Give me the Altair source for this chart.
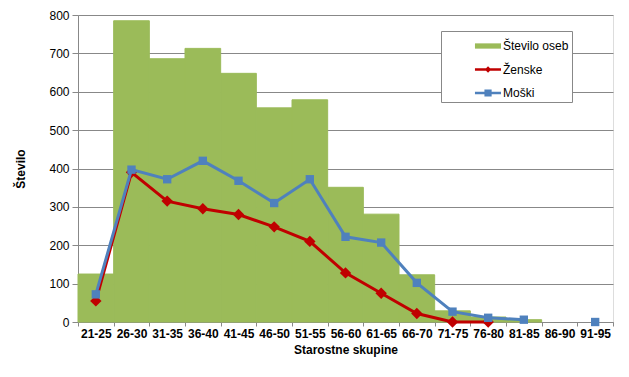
import altair as alt
import pandas as pd

categories = ["21-25", "26-30", "31-35", "36-40", "41-45", "46-50", "51-55", "56-60",
              "61-65", "66-70", "71-75", "76-80", "81-85", "86-90", "91-95"]
stevilo_oseb = [125, 785, 686, 713, 648, 558, 579, 351, 281, 123, 29, 13, 6, 0, 0]
zenske = [55, 390, 315, 295, 280, 248, 210, 128, 75, 22, 0, 0, None, None, None]
moski = [72, 397, 372, 420, 368, 310, 372, 222, 207, 102, 27, 11, 6, None, 0]

series_names = ["Število oseb", "Ženske", "Moški"]
GREEN = "#9BBB59"
RED = "#C00000"
BLUE = "#4F81BD"
FONT = "Liberation Sans"

bars = pd.DataFrame({"cat": categories, "value": stevilo_oseb})


def segments(vals):
    seg, rows, prev_null = 0, [], False
    for c, v in zip(categories, vals):
        if v is None:
            prev_null = True
            continue
        if prev_null and rows:
            seg += 1
        prev_null = False
        rows.append({"cat": c, "value": v, "seg": seg})
    return pd.DataFrame(rows)


zdf = segments(zenske)
mdf = segments(moski)

xenc = alt.X("cat:N", sort=categories,
             scale=alt.Scale(domain=categories, paddingInner=0, paddingOuter=0),
             axis=alt.Axis(title="Starostne skupine", labelAngle=0, tickBand="extent",
                           labelFont=FONT, labelFontSize=12, labelFontWeight="bold",
                           labelColor="#000", labelPadding=2,
                           tickColor="#888", tickSize=4, domainColor="#888",
                           titleFont=FONT, titleFontSize=12, titleFontWeight="bold",
                           titleColor="#000", titlePadding=5, grid=False))
yenc = alt.Y("value:Q", scale=alt.Scale(domain=[0, 800], nice=False),
             axis=alt.Axis(title="Število", values=list(range(0, 801, 100)),
                           labelOverlap=False,
                           labelFont=FONT, labelFontSize=12, labelColor="#000", labelPadding=3,
                           tickColor="#888", tickSize=6, domainColor="#888",
                           gridColor="#888", gridWidth=1,
                           titleFont=FONT, titleFontSize=12, titleFontWeight="bold",
                           titleColor="#000", titlePadding=21))

bar_layer = alt.Chart(bars).transform_filter("datum.value > 0").mark_bar(
    color=GREEN, stroke=GREEN, strokeWidth=1).encode(x=xenc, y=yenc)

red_line = alt.Chart(zdf).mark_line(color=RED, strokeWidth=3).encode(
    x=xenc, y=yenc, detail="seg:N")
red_pts = alt.Chart(zdf).mark_point(shape="diamond", filled=True, color=RED,
                                    size=130, opacity=1).encode(x=xenc, y=yenc)
blue_line = alt.Chart(mdf).mark_line(color=BLUE, strokeWidth=3).encode(
    x=xenc, y=yenc, detail="seg:N")
blue_pts = alt.Chart(mdf).mark_point(shape="square", filled=True, color=BLUE,
                                     size=70, opacity=1).encode(x=xenc, y=yenc)

leg_df = pd.DataFrame({"series": series_names})
bar_sym = "M1.58,-0.22H3.75V0.22H1.58Z"
dia_sym = "M1.58,-0.1H3.75V0.1H1.58Z M2.67,-0.27L2.94,0L2.67,0.27L2.40,0Z"
sq_sym = "M1.58,-0.1H3.75V0.1H1.58Z M2.37,-0.3H2.97V0.3H2.37Z"
legend_props = dict(title=None, orient="none", legendX=363, legendY=16,
                    strokeColor="#888", padding=3, fillColor="white",
                    symbolSize=576, symbolStrokeWidth=0, labelOffset=35,
                    rowPadding=5.5,
                    labelFont=FONT, labelFontSize=12, labelColor="#000",
                    labelExpr="datum.label + '         '")
legend_layer = alt.Chart(leg_df).mark_point(filled=True, opacity=1).encode(
    color=alt.Color("series:N",
                    scale=alt.Scale(domain=series_names, range=[GREEN, RED, BLUE]),
                    legend=alt.Legend(**legend_props)),
    shape=alt.Shape("series:N",
                    scale=alt.Scale(domain=series_names, range=[bar_sym, dia_sym, sq_sym]),
                    legend=alt.Legend(**legend_props)),
).transform_filter("false")

chart = alt.layer(bar_layer, red_line, red_pts, blue_line, blue_pts, legend_layer).properties(
    width=535, height=307,
    autosize=alt.AutoSizeParams(type="none"),
    padding={"left": 70, "top": 7, "right": 8, "bottom": 47},
).configure_view(stroke="#888", strokeWidth=1).configure(background="white")

chart.save("out.html", embed_options={"renderer": "svg", "actions": False})
